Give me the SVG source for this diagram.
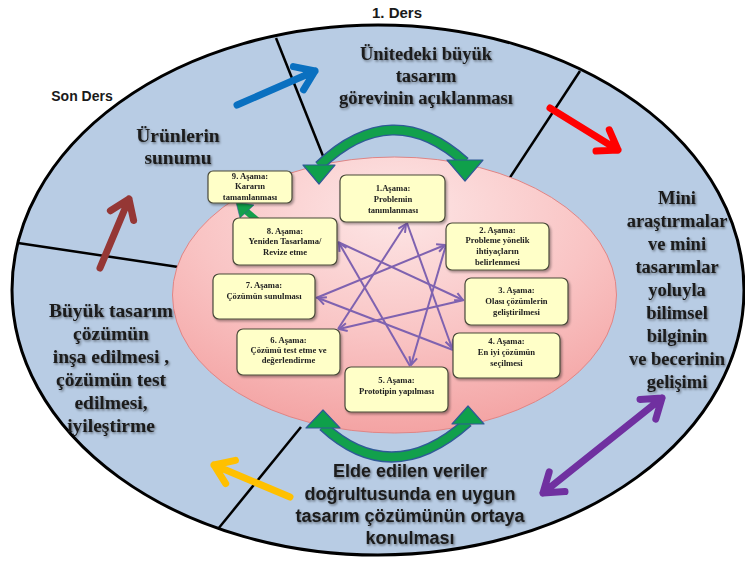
<svg xmlns="http://www.w3.org/2000/svg" width="745" height="569" viewBox="0 0 745 569">
<defs>
<style>
.divider{stroke:#000;stroke-width:2.5;fill:none}
.box{fill:#ffffc8;stroke:#4a4a3a;stroke-width:1.2}
.bt{font-family:"Liberation Serif","Times New Roman",serif;font-weight:bold;font-size:8.6px;fill:#222;text-anchor:middle}
.ring{font-family:"Liberation Serif","Times New Roman",serif;font-weight:bold;font-size:18.5px;fill:#1a1a1a;text-anchor:middle}
.ringL{font-size:19.5px}
.sans{font-family:"Liberation Sans",Arial,sans-serif;font-weight:bold;fill:#1a1a1a;text-anchor:middle}
.star{stroke:#7f62b0;stroke-width:2;fill:none}
.big{fill:none;stroke-width:7;stroke-linecap:round;stroke-linejoin:round}
.garc-o{fill:none;stroke:#2f5a96;stroke-width:11}
.garc-i{fill:none;stroke:#12a04c;stroke-width:8}
.ghead{fill:#0fa04b;stroke:#2f5a96;stroke-width:1.2;stroke-linejoin:round}
</style>
<radialGradient id="pinkg" cx="0.5" cy="0.2" r="0.9">
<stop offset="0" stop-color="#fde6e6"/>
<stop offset="0.5" stop-color="#f9c4c4"/>
<stop offset="1" stop-color="#f29a9a"/>
</radialGradient>
<filter id="tsh" x="-10%" y="-30%" width="120%" height="160%">
<feDropShadow dx="1.2" dy="1.5" stdDeviation="1.2" flood-color="#000" flood-opacity="0.45"/>
</filter>
<filter id="bsh" x="-10%" y="-10%" width="125%" height="130%">
<feDropShadow dx="1.5" dy="1.8" stdDeviation="1.2" flood-color="#000" flood-opacity="0.35"/>
</filter>
<marker id="pa" viewBox="0 0 10 10" refX="9" refY="5" markerWidth="5" markerHeight="5" orient="auto" markerUnits="strokeWidth">
<path d="M1,1 L9,5 L1,9" fill="none" stroke="#7f62b0" stroke-width="2" stroke-linejoin="round"/>
</marker>
</defs>

<g id="outer-ring">
<ellipse cx="378" cy="290" rx="366" ry="265" fill="#b8cce4" stroke="#000" stroke-width="3"/>
</g>

<g id="dividers">
<line class="divider" x1="276" y1="38" x2="327" y2="166"/>
<line class="divider" x1="580" y1="71" x2="505" y2="185"/>
<line class="divider" x1="18" y1="243" x2="185" y2="268"/>
<line class="divider" x1="301" y1="427" x2="218" y2="529"/>
</g>

<g id="inner-ellipse">
<ellipse cx="394.5" cy="295" rx="222" ry="138" fill="url(#pinkg)" stroke="#e08585" stroke-width="1"/>
</g>

<g id="connectors">
<g id="purple-star">
<line class="star" x1="338" y1="329" x2="406" y2="224" marker-end="url(#pa)"/>
<line class="star" x1="407" y1="223" x2="452" y2="348" marker-end="url(#pa)"/>
<line class="star" x1="453" y1="350" x2="318" y2="298" marker-end="url(#pa)"/>
<line class="star" x1="316" y1="298" x2="445" y2="245" marker-end="url(#pa)"/>
<line class="star" x1="446" y1="245" x2="411" y2="365" marker-end="url(#pa)"/>
<line class="star" x1="410" y1="366" x2="339" y2="243" marker-end="url(#pa)"/>
<line class="star" x1="338" y1="242" x2="463" y2="300" marker-end="url(#pa)"/>
<line class="star" x1="464" y1="300" x2="339" y2="329" marker-end="url(#pa)"/>
</g>
<g id="green-arc-top">
<path class="garc-o" d="M319,166 Q392,96 465,162"/>
<path class="garc-i" d="M319,166 Q392,96 465,162"/>
<polygon class="ghead" points="303,165 335,165 319,184"/>
<polygon class="ghead" points="447,160 483,160 465,181"/>
</g>
<g id="green-arc-bottom">
<path class="garc-o" d="M323,426 Q392,490 468,422"/>
<path class="garc-i" d="M323,426 Q392,490 468,422"/>
<polygon class="ghead" points="306,428 340,428 323,410"/>
<polygon class="ghead" points="452,424 484,424 468,406"/>
</g>
<g id="arrow-8-9">
<line x1="259" y1="222" x2="246" y2="211" stroke="#12a04c" stroke-width="6.5"/>
<polygon points="236,202 254,205 240,218" fill="#12a04c" stroke="#2f5a96" stroke-width="0.6"/>
</g>
<g id="blue-arrow">
<path class="big" stroke="#0a70c0" d="M237,105 L315,71 M293.4,66.6 L315,71 L303.5,89.8"/>
</g>
<g id="red-arrow">
<path class="big" stroke="#ff0000" d="M550,108 L618,150 M609.3,129.8 L618,150 L596,151"/>
</g>
<g id="brown-arrow">
<path class="big" stroke="#953735" d="M100,268 L129,199 M110.4,210.7 L129,199 L133.6,220.5"/>
</g>
<g id="yellow-arrow">
<path class="big" stroke="#ffc000" d="M290,497 L214,465 M225.7,483.6 L214,465 L235.5,460.4"/>
</g>
<g id="purple-double-arrow">
<path class="big" stroke="#7030a0" d="M543,493 L662,398 M640,399.4 L662,398 L655.8,419.1 M565,491.6 L543,493 L549.2,471.9"/>
</g>
</g>

<g id="stage9" filter="url(#bsh)">
<rect class="box" x="208" y="171" width="84" height="32" rx="5"/>
<text class="bt" x="250" y="179">9. Aşama:</text>
<text class="bt" x="250" y="189">Kararın</text>
<text class="bt" x="250" y="200">tamamlanması</text>
</g>
<g id="stage8" filter="url(#bsh)">
<rect class="box" x="233" y="218" width="104" height="47" rx="6"/>
<text class="bt" x="285" y="234">8. Aşama:</text>
<text class="bt" x="285" y="244">Yeniden Tasarlama/</text>
<text class="bt" x="285" y="255">Revize etme</text>
</g>
<g id="stage1" filter="url(#bsh)">
<rect class="box" x="340" y="175" width="105" height="47" rx="6"/>
<text class="bt" x="393" y="191">1.Aşama:</text>
<text class="bt" x="393" y="202">Problemin</text>
<text class="bt" x="393" y="213">tanımlanması</text>
</g>
<g id="stage2" filter="url(#bsh)">
<rect class="box" x="446" y="223" width="103" height="47" rx="6"/>
<text class="bt" x="497.5" y="233">2. Aşama:</text>
<text class="bt" x="497.5" y="243">Probleme yönelik</text>
<text class="bt" x="497.5" y="254">ihtiyaçların</text>
<text class="bt" x="497.5" y="265">belirlenmesi</text>
</g>
<g id="stage3" filter="url(#bsh)">
<rect class="box" x="465" y="278" width="103" height="47" rx="6"/>
<text class="bt" x="516.5" y="293">3. Aşama:</text>
<text class="bt" x="516.5" y="304">Olası çözümlerin</text>
<text class="bt" x="516.5" y="315">geliştirilmesi</text>
</g>
<g id="stage4" filter="url(#bsh)">
<rect class="box" x="453" y="333" width="107" height="45" rx="6"/>
<text class="bt" x="506.5" y="344">4. Aşama:</text>
<text class="bt" x="506.5" y="355">En iyi çözümün</text>
<text class="bt" x="506.5" y="366">seçilmesi</text>
</g>
<g id="stage5" filter="url(#bsh)">
<rect class="box" x="345" y="367" width="103" height="45" rx="6"/>
<text class="bt" x="396.5" y="383">5. Aşama:</text>
<text class="bt" x="396.5" y="394">Prototipin yapılması</text>
</g>
<g id="stage6" filter="url(#bsh)">
<rect class="box" x="237" y="329" width="103" height="46" rx="6"/>
<text class="bt" x="288.5" y="343">6. Aşama:</text>
<text class="bt" x="288.5" y="353">Çözümü test etme ve</text>
<text class="bt" x="288.5" y="363">değerlendirme</text>
</g>
<g id="stage7" filter="url(#bsh)">
<rect class="box" x="213" y="274" width="102" height="45" rx="6"/>
<text class="bt" x="264" y="288">7. Aşama:</text>
<text class="bt" x="264" y="299">Çözümün sunulması</text>
</g>

<g id="label-first">
<text class="sans" x="397" y="18" font-size="15">1. Ders</text>
</g>
<g id="label-last">
<text class="sans" x="82" y="101" font-size="14">Son Ders</text>
</g>

<g id="phase-task" filter="url(#tsh)">
<text class="ring" x="426" y="60">Ünitedeki büyük</text>
<text class="ring" x="426" y="82">tasarım</text>
<text class="ring" x="426" y="104">görevinin açıklanması</text>
</g>
<g id="phase-mini" filter="url(#tsh)">
<text class="ring" x="677" y="204">Mini</text>
<text class="ring" x="677" y="227">araştırmalar</text>
<text class="ring" x="677" y="250">ve mini</text>
<text class="ring" x="677" y="273">tasarımlar</text>
<text class="ring" x="677" y="296">yoluyla</text>
<text class="ring" x="677" y="319">bilimsel</text>
<text class="ring" x="677" y="342">bilginin</text>
<text class="ring" x="677" y="365">ve becerinin</text>
<text class="ring" x="677" y="388">gelişimi</text>
</g>
<g id="phase-solution" filter="url(#tsh)">
<text class="sans" x="410" y="477" font-size="18">Elde edilen veriler</text>
<text class="sans" x="410" y="500" font-size="18">doğrultusunda en uygun</text>
<text class="sans" x="410" y="522" font-size="18">tasarım çözümünün ortaya</text>
<text class="sans" x="410" y="544" font-size="18">konulması</text>
</g>
<g id="phase-build" filter="url(#tsh)">
<text class="ring ringL" x="111" y="317">Büyük tasarım</text>
<text class="ring ringL" x="111" y="340">çözümün</text>
<text class="ring ringL" x="111" y="363">inşa edilmesi ,</text>
<text class="ring ringL" x="111" y="386">çözümün test</text>
<text class="ring ringL" x="111" y="409">edilmesi,</text>
<text class="ring ringL" x="111" y="432">iyileştirme</text>
</g>
<g id="phase-present" filter="url(#tsh)">
<text class="ring ringL" x="178" y="142">Ürünlerin</text>
<text class="ring ringL" x="178" y="164">sunumu</text>
</g>
</svg>
